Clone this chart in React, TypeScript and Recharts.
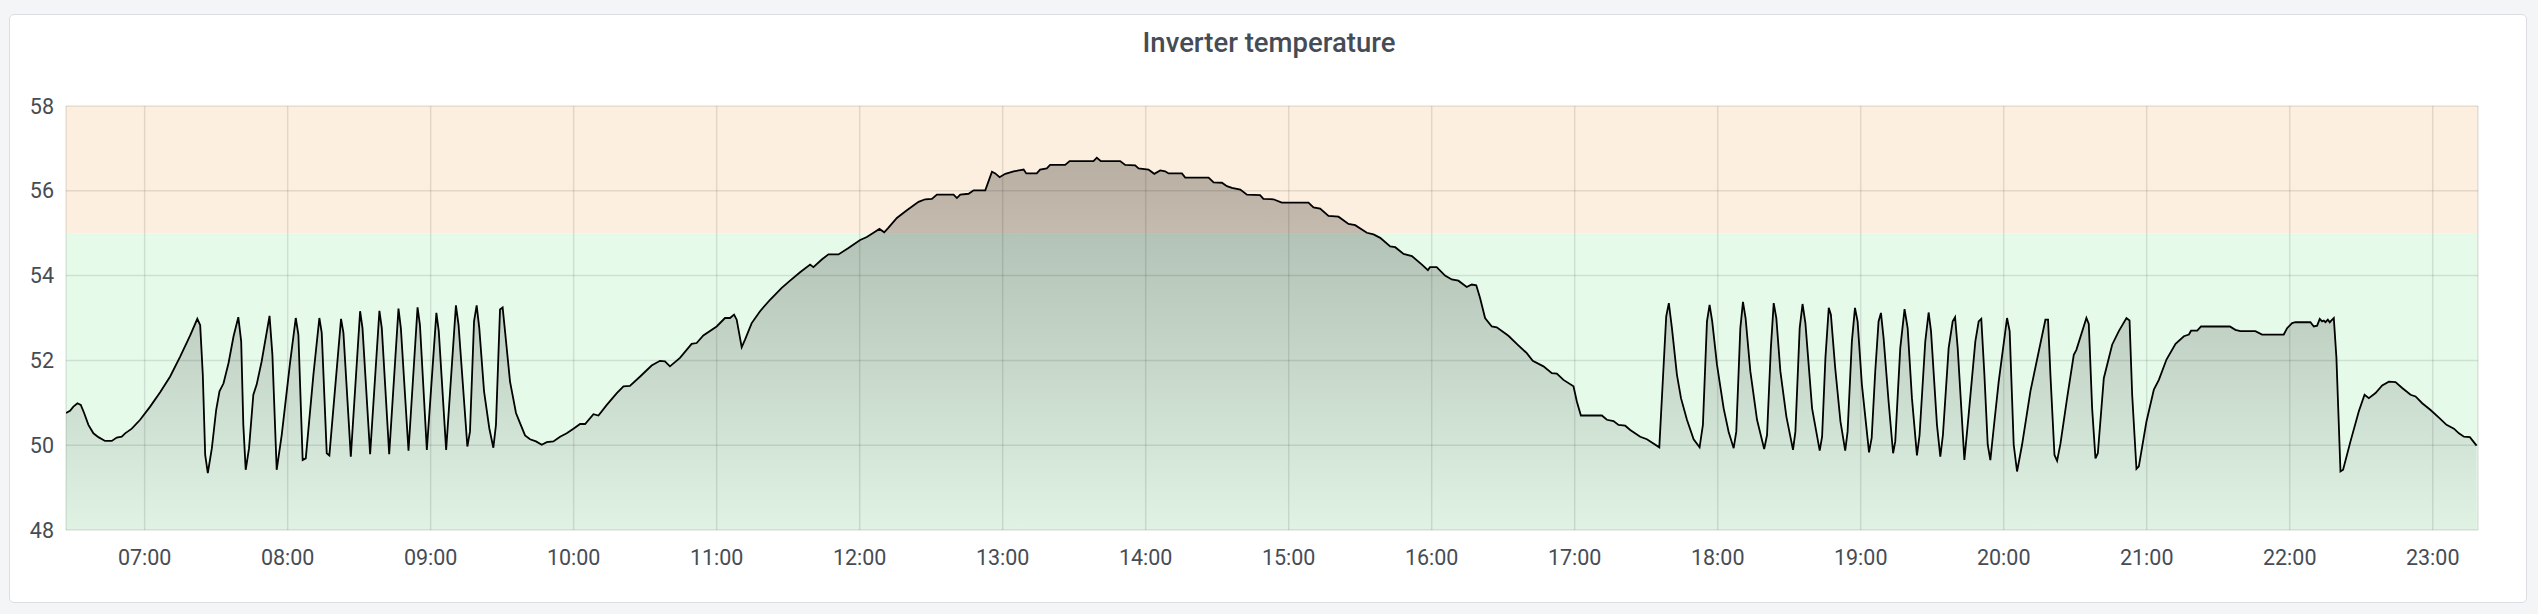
import { AreaChart, Area, XAxis, YAxis, CartesianGrid, ReferenceArea } from "recharts"

// sample times in minutes after midnight
const times = [
  387, 388.7, 390.1, 391.8, 393.2, 394.6, 396.4, 398.5, 400.6, 403.4, 406.2, 408.3, 410.4, 411.8, 414.6, 418.1,
  422.3, 426.5, 430.7, 434.9, 439.1, 442.1, 443.3, 444.4, 445.4, 446.5, 448.2, 450.0, 451.4, 453.1, 455.2, 457.3,
  459.3, 460.5, 461.4, 462.4, 463.8, 465.6, 467.0, 469.1, 472.4, 473.6, 475.4, 477.5, 481.0, 483.4, 484.5, 486.3,
  487.6, 490.8, 493.3, 494.3, 496.4, 497.5, 502.4, 503.4, 506.5, 510.4, 511.4, 514.6, 518.5, 519.5, 522.6, 526.5,
  527.5, 530.7, 534.5, 535.5, 538.4, 542.4, 543.4, 546.5, 550.6, 551.7, 555.4,
  556.5, 558.2, 559.3, 560.4, 562.4, 564.6, 566.3, 567.4, 569.1, 570.2, 571.2, 573.3, 575.8, 577.5, 579.6, 581.7,
  584.2, 586.6, 588.7, 591.5, 594.3, 597.1, 599.9, 602.7, 604.8, 608.3, 610.4, 613.9, 618.1, 620.9, 623.6, 627.9,
  632.7, 636.2, 638.3, 640.4, 644.6, 649.5, 651.6, 654.4, 660.0, 663.5, 665.6, 667.3, 668.4, 670.5, 671.9, 674.7,
  678.2, 682.4, 687.3, 690.8, 695.0, 699.2, 700.6, 704.1, 706.9, 711.1, 715.3,
  720.2, 723.0, 725.8, 728.3, 730.3, 732.1, 735.6, 739.8, 744.7, 747.5, 750.3, 752.4, 759.4, 760.8, 762.2, 765.7,
  767.8, 772.7, 775.5, 776.9, 778.7, 781.1, 784.6, 788.8, 789.9, 794.3, 795.7, 798.5, 799.9, 806.2, 808.1, 818.1,
  819.5, 821.2, 829.3, 831.4, 835.6, 837.0, 841.2, 843.6, 846.1, 848.2, 849.6, 855.2, 856.6, 866.4, 868.5, 872.0,
  874.1, 876.2, 879.7, 882.5,
  888.0, 889.4, 893.6, 897.1, 908.3, 910.4, 913.2, 916.7, 920.9, 925.1, 927.9, 932.8, 935.6, 938.4, 942.6, 944.7,
  948.2, 951.7, 955.9, 958.4, 959.3, 962.1, 965.6, 968.4, 971.2, 974.7, 976.8, 978.7, 980.3, 982.4, 985.2, 987.3,
  992.2, 995.7, 999.9, 1002.4, 1006.9, 1010.4, 1012.5, 1015.3, 1019.5, 1020.9, 1022.6, 1031.4, 1033.5, 1036.3,
  1038.4, 1041.2, 1043.3, 1047.5, 1050.3, 1055.5,
  1058.4, 1059.5, 1060.8, 1062.9, 1064.6, 1067.1, 1069.9, 1072.4, 1073.8, 1075.5, 1076.6, 1077.7, 1079.7, 1082.5,
  1084.6, 1086.7, 1087.8, 1089.5, 1090.6, 1091.7, 1093.7, 1096.5, 1099.5, 1100.7, 1102.3, 1103.5, 1104.6, 1106.3,
  1108.8, 1111.6, 1112.6, 1114.4, 1115.6, 1116.8, 1119.6, 1122.8, 1123.8, 1125.2, 1126.6, 1127.5, 1129.3, 1131.5,
  1133.5, 1134.5, 1136.3, 1137.6, 1138.7, 1140.5, 1143.5, 1144.6, 1146.1, 1147.5, 1148.5, 1149.6, 1151.7, 1153.6,
  1154.5, 1156.6, 1158.4, 1159.7, 1161.5, 1163.6, 1164.7, 1167.1, 1168.5, 1169.5, 1172.0, 1173.4, 1174.5, 1176.9,
  1178.6, 1179.6, 1180.7, 1183.5, 1185.3, 1188.1, 1189.5, 1190.6, 1191.9, 1193.3, 1194.4, 1195.8, 1197.9, 1201.4,
  1202.5, 1204.2, 1205.6, 1207.7, 1211.2, 1214.7, 1217.5, 1218.6, 1219.6, 1221.3, 1222.4,
  1223.8, 1226.6, 1229.4, 1230.5, 1234.7, 1235.7, 1237.1, 1238.5, 1239.5, 1242.0, 1245.5, 1248.3, 1251.5, 1252.8,
  1253.9, 1255.7, 1256.7, 1259.9, 1263.0, 1265.1, 1268.3, 1272.1, 1275.6, 1277.7, 1278.6, 1281.2, 1282.8, 1294.9,
  1297.2, 1299.3, 1305.6, 1308.4, 1317.5, 1318.9, 1321.0, 1322.4, 1328.7, 1330.1, 1331.5, 1332.6, 1333.6, 1334.3,
  1335.0, 1336.0, 1336.8, 1338.5, 1339.6, 1341.3, 1342.4, 1345.5, 1349.0, 1351.4, 1353.2, 1356.0, 1358.8, 1361.6,
  1364.4, 1367.2, 1370.7, 1372.8, 1375.6, 1379.1, 1382.6, 1385.8, 1388.9, 1391.0, 1393.1, 1395.6, 1398.4,
]

const temps = [
  50.76, 50.81, 50.91, 50.99, 50.95, 50.76, 50.48, 50.28, 50.19, 50.10, 50.10, 50.18, 50.20, 50.28, 50.39, 50.60,
  50.91, 51.25, 51.62, 52.09, 52.59, 52.98, 52.83, 51.66, 49.77, 49.34, 49.93, 50.83, 51.27, 51.46, 51.94, 52.57,
  53.02, 52.45, 50.48, 49.42, 49.93, 51.19, 51.43, 51.98, 53.05, 52.13, 49.42, 50.24, 51.94, 53.00, 52.61, 49.65,
  49.69, 51.66, 53.00, 52.65, 49.81, 49.76, 52.98, 52.65, 49.73, 53.16, 52.76, 49.79, 53.17, 52.76, 49.79, 53.22,
  52.76, 49.87, 53.25, 52.84, 49.89, 53.12, 52.69, 49.89, 53.30, 52.84, 49.97,
  50.32, 52.92, 53.30, 52.76, 51.27, 50.40, 49.94, 50.48, 53.20, 53.25, 52.69, 51.50, 50.76, 50.52, 50.23, 50.14,
  50.09, 50.01, 50.07, 50.09, 50.20, 50.28, 50.39, 50.50, 50.50, 50.73, 50.70, 50.95, 51.23, 51.39, 51.40, 51.62,
  51.88, 51.99, 51.98, 51.86, 52.06, 52.39, 52.41, 52.59, 52.80, 53.00, 53.00, 53.08, 52.96, 52.31, 52.49, 52.88,
  53.16, 53.43, 53.71, 53.88, 54.08, 54.26, 54.20, 54.38, 54.50, 54.50, 54.65,
  54.84, 54.91, 55.01, 55.10, 55.02, 55.13, 55.36, 55.54, 55.74, 55.80, 55.81, 55.91, 55.91, 55.83, 55.91, 55.93,
  56.01, 56.01, 56.45, 56.41, 56.32, 56.40, 56.46, 56.50, 56.41, 56.41, 56.50, 56.53, 56.61, 56.61, 56.70, 56.70,
  56.78, 56.70, 56.70, 56.61, 56.60, 56.53, 56.50, 56.40, 56.48, 56.46, 56.41, 56.41, 56.31, 56.31, 56.20, 56.19,
  56.11, 56.07, 56.03, 55.91,
  55.90, 55.81, 55.80, 55.72, 55.72, 55.61, 55.58, 55.41, 55.39, 55.22, 55.19, 55.01, 54.97, 54.89, 54.69, 54.67,
  54.51, 54.46, 54.26, 54.13, 54.20, 54.20, 54.00, 53.91, 53.88, 53.73, 53.79, 53.77, 53.47, 53.00, 52.80, 52.78,
  52.58, 52.39, 52.17, 51.99, 51.86, 51.70, 51.69, 51.54, 51.39, 51.03, 50.70, 50.70, 50.60, 50.57,
  50.48, 50.46, 50.36, 50.20, 50.14, 49.95,
  53.04, 53.35, 52.76, 51.66, 51.11, 50.60, 50.14, 49.95, 50.48, 52.92, 53.31, 52.92, 51.90, 50.87,
  50.31, 49.93, 50.32, 52.76, 53.38, 53.00, 51.74, 50.60, 49.91, 50.24, 52.29, 53.35, 53.00, 51.74,
  50.68, 49.89, 50.32, 52.76, 53.33, 52.88, 50.87, 49.87, 50.20, 52.06, 53.24, 53.08, 51.82, 50.56,
  49.87, 50.32, 52.45, 53.24, 52.92, 51.43, 49.83, 50.17, 51.74, 52.92, 53.12, 52.53, 51.03, 49.81,
  50.09, 52.29, 53.21, 52.76, 51.11, 49.76, 50.24, 52.45, 53.13, 52.69, 50.48, 49.73, 50.24, 52.29,
  52.92, 53.02, 52.29, 49.65, 50.72, 52.45, 52.92, 52.98, 51.66, 50.01, 49.65, 50.40, 51.50, 53.00,
  52.69, 50.01, 49.38, 50.01, 51.27, 52.21, 52.96, 52.96, 51.66, 49.77, 49.63,
  50.03, 51.11, 52.13, 52.25, 53.00, 52.86, 50.87, 49.69, 49.81, 51.58, 52.37, 52.69, 53.00, 52.94,
  51.19, 49.44, 49.50, 50.56, 51.31, 51.54, 52.02, 52.39, 52.57, 52.61, 52.70, 52.70, 52.80, 52.80,
  52.72, 52.69, 52.69, 52.61, 52.61, 52.76, 52.88, 52.90, 52.90, 52.80, 52.82, 52.98, 52.92, 52.94,
  52.90, 52.96, 52.90, 53.00, 52.06, 49.38, 49.42, 50.09, 50.80, 51.19, 51.11, 51.23, 51.41, 51.50,
  51.49, 51.35, 51.19, 51.15, 50.99, 50.83, 50.65, 50.48, 50.39, 50.28, 50.20, 50.19, 49.99,
]

const hourTicks = [420, 480, 540, 600, 660, 720, 780, 840, 900, 960, 1020, 1080, 1140, 1200, 1260, 1320, 1380]
const tempTicks = [48, 50, 52, 54, 56, 58]

// threshold bands
const warnFrom = 55
const okFrom = 48
const top = 58

const data = times.map((t, i) => ({ t, v: temps[i] }))

function formatHour(m: number): string {
  const h = Math.floor(m / 60)
  return `${h < 10 ? "0" : ""}${h}:00`
}

const W = 2538
const H = 614
const margin = { top: 106, right: 60, bottom: 44, left: 16 }
const tickStyle = { fill: "#464c55", fontSize: 21.5, fontFamily: "Roboto" }

export default function App() {
  // both layers use identical axes so the bands line up with the grid and line
  const xAxis = (hide: boolean) => (
    <XAxis
      dataKey="t"
      type="number"
      domain={[387, 1399]}
      ticks={hourTicks}
      tickFormatter={formatHour}
      allowDataOverflow
      axisLine={false}
      tickLine={false}
      tickSize={0}
      tickMargin={20}
      height={40}
      tick={hide ? false : tickStyle}
    />
  )
  const yAxis = (hide: boolean) => (
    <YAxis
      type="number"
      domain={[48, 58]}
      ticks={tempTicks}
      allowDataOverflow
      axisLine={false}
      tickLine={false}
      tickSize={0}
      tickMargin={12}
      width={50}
      tick={hide ? false : tickStyle}
    />
  )

  return (
    <div style={{ position: "absolute", left: 0, top: 0, width: W, height: H, background: "#f4f5f7", fontFamily: "Roboto" }}>
      <div
        style={{
          position: "absolute",
          left: 9,
          top: 14,
          width: 2516,
          height: 587,
          background: "#fff",
          border: "1px solid #dcdee3",
          borderRadius: 5,
        }}
      />
      <div
        style={{
          position: "absolute",
          left: 0,
          top: 27,
          width: W,
          textAlign: "center",
          fontSize: 27.5,
          fontWeight: 500,
          lineHeight: "32px",
          color: "#464c55",
        }}
      >
        Inverter temperature
      </div>
      {/* threshold bands, underneath */}
      <div style={{ position: "absolute", left: 0, top: 0 }}>
        <AreaChart width={W} height={H} data={data} margin={margin}>
          {xAxis(true)}
          {yAxis(true)}
          <ReferenceArea y1={warnFrom} y2={top} fill="#fcefdf" fillOpacity={1} stroke="none" ifOverflow="visible" />
          <ReferenceArea y1={okFrom} y2={warnFrom} fill="#e6faea" fillOpacity={1} stroke="none" ifOverflow="visible" />
          <Area dataKey="v" stroke="none" fill="none" dot={false} activeDot={false} isAnimationActive={false} />
        </AreaChart>
      </div>
      {/* grid, axes and series on top */}
      <div style={{ position: "absolute", left: 0, top: 0 }}>
        <AreaChart width={W} height={H} data={data} margin={margin}>
          <defs>
            <linearGradient id="tempFill" x1="0" y1="0" x2="0" y2="1">
              <stop offset="0%" stopColor="#000" stopOpacity={0.27} />
              <stop offset="100%" stopColor="#000" stopOpacity={0.03} />
            </linearGradient>
          </defs>
          <CartesianGrid stroke="rgba(0,0,0,0.1)" strokeWidth={1.5} />
          {xAxis(false)}
          {yAxis(false)}
          <Area
            type="linear"
            dataKey="v"
            stroke="#000"
            strokeWidth={1.8}
            fill="url(#tempFill)"
            fillOpacity={1}
            baseValue={48}
            dot={false}
            activeDot={false}
            isAnimationActive={false}
          />
        </AreaChart>
      </div>
    </div>
  )
}
